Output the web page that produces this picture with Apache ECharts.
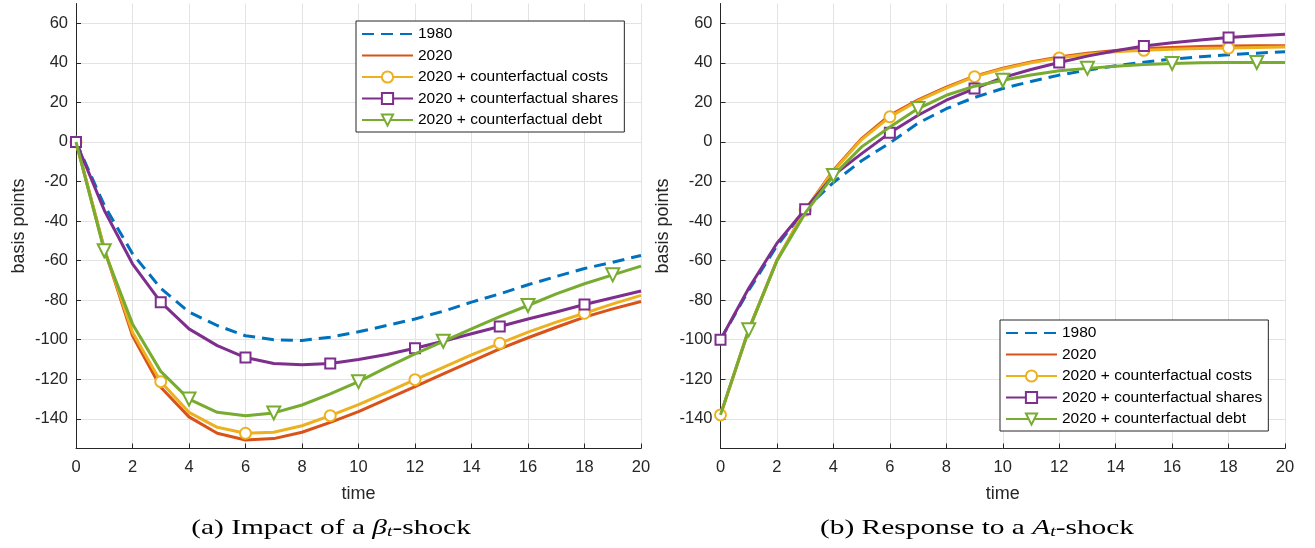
<!DOCTYPE html>
<html lang="en">
<head>
    <meta charset="UTF-8">
    <title></title>
    <script src="https://cdn.jsdelivr.net/npm/echarts@6/dist/echarts.min.js"></script>
    <style>
        html, body{
            margin: 0;
            padding: 0;
            background: #fff;
        }
        #chart{
            width: 1315px;
            height: 548px;
        }
    </style>
</head>
<body>
<div id="chart"></div>

<script>
    /*数据*/
    var times = [0,1,2,3,4,5,6,7,8,9,10,11,12,13,14,15,16,17,18,19,20];
    var yTicks = [-140,-120,-100,-80,-60,-40,-20,0,20,40,60];
    var names = ['1980','2020','2020 + counterfactual costs','2020 + counterfactual shares','2020 + counterfactual debt'];

    // (a) beta shock
    var a1980   = [0,-32,-56.5,-74,-86,-92.8,-98,-100,-100.4,-98.7,-96,-92.8,-89.5,-85.6,-81,-76.8,-72.2,-68,-64,-60.8,-57.4];
    var a2020   = [0,-54,-98,-124,-139,-147.3,-150.7,-150,-146.8,-141.8,-136.4,-130,-123.7,-117.3,-110.9,-104.6,-99,-93.7,-88.6,-84.4,-80.7];
    var aCosts  = [0,-54,-96.2,-121.2,-136.7,-144.3,-147.3,-146.8,-143.5,-138.4,-132.8,-126.6,-120.2,-114,-107.7,-101.8,-96.2,-91.1,-86.6,-81.9,-77.6];
    var aShares = [0,-34.5,-61.6,-81,-94.5,-103,-109,-112,-112.6,-112,-110,-107.5,-104.3,-100.8,-97,-93.3,-89.5,-86,-82.2,-78.8,-75.4];
    var aDebt   = [0,-55,-92,-116,-130,-136.7,-138.4,-137,-133,-127.4,-121.2,-114,-107.2,-100.8,-94.5,-88.3,-82.7,-76.8,-71.7,-67.2,-62.8];

    // (b) A shock
    var b1980   = [-100,-75,-52.5,-34,-20.5,-9.5,-0.5,9.5,16.8,22.5,27,30.6,33.8,36.3,38.5,40.3,41.9,43.1,44.1,44.9,45.6];
    var b2020   = [-138,-95,-59.8,-34.5,-14.3,1.7,13.5,21.3,27.7,33.3,37.3,40.4,42.9,44.8,46.3,47.3,47.8,48.2,48.5,48.6,48.7];
    var bCosts  = [-138,-95,-59.8,-34.5,-14.8,1.2,12.7,20.8,27.2,33,36.9,40,42.5,44.3,45.6,46.3,46.9,47.3,47.5,47.8,48];
    var bShares = [-100,-74,-51.2,-34,-16.9,-5.9,4.6,13.5,21.1,27,32.5,36.6,40.2,43.4,46.1,48.5,50.2,51.5,52.8,53.7,54.5];
    var bDebt   = [-138,-95,-60,-36,-17,-2.5,7.6,16.9,23.6,28.2,31.2,33.8,36,37.2,38.3,39.2,39.7,40,40.2,40.2,40.2];

    var marksA = [0,3,6,9,12,15,18];
    var marksB = [1,4,7,10,13,16,19];

    var colors = ['#0072BD','#D95319','#EDB120','#7E2F8E','#77AC30'];
    var fontFamily = '"Liberation Sans", Arial, sans-serif';
    var serifFont = '"Liberation Serif", "DejaVu Serif", serif';
    var axisColor = '#262626';

    function buildData(values, marks){
        return times.map(function(t, i){
            if (marks && marks.indexOf(i) >= 0) {
                return [t, values[i]];
            }
            return {value: [t, values[i]], symbol: 'none'};
        });
    }

    function makeSeries(idx, k, values, marks, symbol, size){
        var s = {
            name: names[k],
            type: 'line',
            xAxisIndex: idx,
            yAxisIndex: idx,
            data: buildData(values, marks),
            symbol: symbol || 'none',
            symbolSize: size || 10,
            showAllSymbol: true,
            z: 2 + k,
            lineStyle: {color: colors[k], width: 3, type: k === 0 ? [12, 7] : 'solid'},
            itemStyle: {color: colors[k], borderColor: colors[k], borderWidth: 2.2},
            emphasis: {disabled: true}
        };
        if (symbol === 'emptyTriangle') {
            s.symbolRotate = 180;
        }
        return s;
    }

    function panelSeries(idx, v1980, v2020, vCosts, vShares, vDebt){
        return [
            makeSeries(idx, 0, v1980),
            makeSeries(idx, 1, v2020),
            makeSeries(idx, 2, vCosts, marksA, 'emptyCircle', 11),
            makeSeries(idx, 3, vShares, marksA, 'emptyRect', 10),
            makeSeries(idx, 4, vDebt, marksB, 'emptyTriangle', 13)
        ];
    }

    function xAxisOpt(idx){
        return {
            type: 'value',
            gridIndex: idx,
            min: 0,
            max: 20,
            interval: 2,
            name: 'time',
            nameLocation: 'middle',
            nameGap: 37,
            nameTextStyle: {color: axisColor, fontSize: 18, fontFamily: fontFamily},
            axisLine: {show: true, onZero: false, lineStyle: {color: axisColor, width: 1}},
            axisTick: {show: true, inside: true, length: 5, lineStyle: {color: axisColor}},
            axisLabel: {color: axisColor, fontSize: 16.5, fontFamily: fontFamily, margin: 10},
            splitLine: {show: true, lineStyle: {color: '#e3e3e3', width: 1}}
        };
    }

    function yAxisOpt(idx){
        return {
            type: 'value',
            gridIndex: idx,
            min: -155,
            max: 70,
            name: 'basis points',
            nameLocation: 'middle',
            nameGap: 48,
            nameTextStyle: {color: axisColor, fontSize: 18, fontFamily: fontFamily},
            axisLine: {show: true, onZero: false, lineStyle: {color: axisColor, width: 1}},
            axisTick: {show: true, inside: true, length: 5, lineStyle: {color: axisColor}, customValues: yTicks},
            axisLabel: {color: axisColor, fontSize: 16.5, fontFamily: fontFamily, margin: 8, customValues: yTicks},
            splitLine: {show: true, lineStyle: {color: '#e3e3e3', width: 1}}
        };
    }

    function legendOpt(left, top){
        var data = names.map(function(n, k){
            // 1980 和 2020 在图例里只画线，不画点
            return k < 2 ? {name: n, itemStyle: {opacity: 0}} : {name: n};
        });
        return {
            orient: 'vertical',
            left: left,
            top: top,
            data: data,
            selectedMode: false,
            itemWidth: 51,
            itemHeight: 14,
            itemGap: 5.5,
            padding: [5, 6, 4, 5],
            backgroundColor: '#fff',
            borderColor: axisColor,
            borderWidth: 1,
            borderRadius: 0,
            textStyle: {color: '#000', fontSize: 15.5, fontFamily: fontFamily}
        };
    }

    function caption(x, text){
        return {
            type: 'text',
            x: x,
            y: 528,
            scaleX: 1.4,
            style: {
                text: text,
                align: 'center',
                verticalAlign: 'middle',
                fill: '#000',
                font: '21px ' + serifFont,
                rich: {
                    m: {fontStyle: 'italic', fontSize: 21, fontFamily: serifFont},
                    s: {fontStyle: 'italic', fontSize: 14, fontFamily: serifFont, padding: [9, 0, 0, 0]}
                }
            }
        };
    }

    var option = {
        animation: false,
        backgroundColor: '#fff',
        grid: [
            {left: 76, right: 674, top: 3.5, bottom: 99.5},
            {left: 720.5, right: 30, top: 3.5, bottom: 99.5}
        ],
        xAxis: [xAxisOpt(0), xAxisOpt(1)],
        yAxis: [yAxisOpt(0), yAxisOpt(1)],
        legend: [legendOpt(356, 21), legendOpt(1000, 320)],
        series: panelSeries(0, a1980, a2020, aCosts, aShares, aDebt)
            .concat(panelSeries(1, b1980, b2020, bCosts, bShares, bDebt)),
        graphic: [
            caption(331, '(a) Impact of a {m|β}{s|t}-shock'),
            caption(977, '(b) Response to a {m|A}{s|t}-shock')
        ]
    };

    var chart = echarts.init(document.getElementById('chart'));
    chart.setOption(option);
</script>
</body>
</html>
